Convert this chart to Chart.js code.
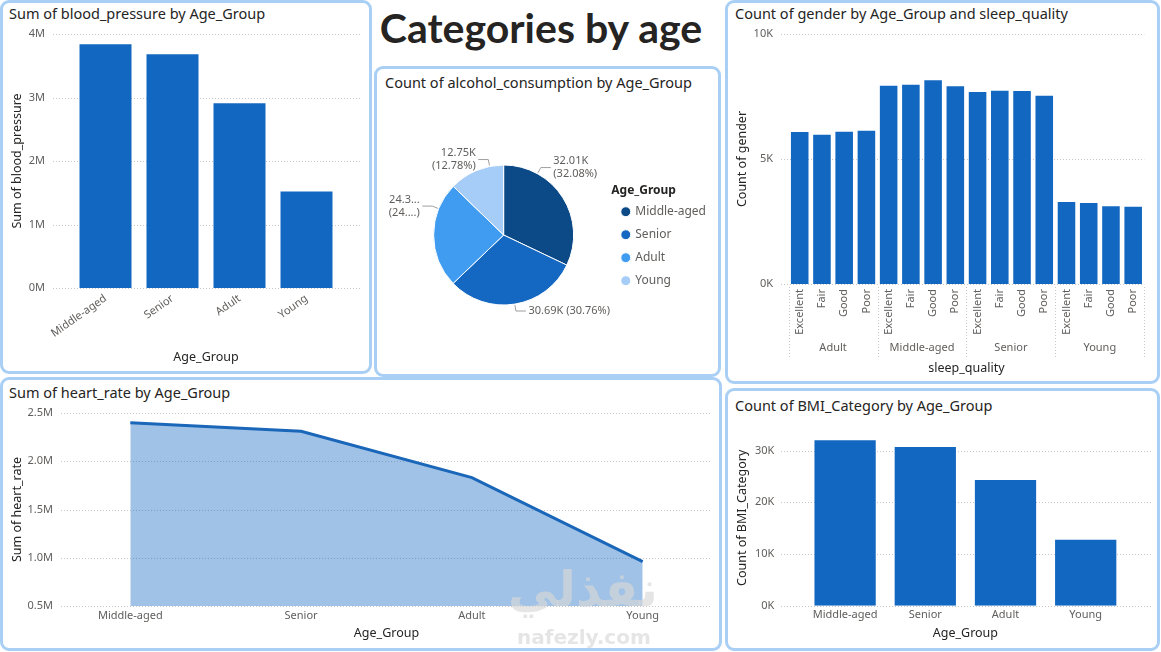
<!DOCTYPE html>
<html>
<head>
<meta charset="utf-8">
<title>Categories by age</title>
<script src="https://cdn.jsdelivr.net/npm/chart.js@4.4.1/dist/chart.umd.min.js"></script>
<style>
  body { margin: 0; background: #fff; font-family: "Noto Sans", sans-serif; }
  #page { position: relative; width: 1161px; height: 652px; overflow: hidden; background: #fff; }
  .panel { position: absolute; box-sizing: border-box; border: 3px solid #a9cff4; border-radius: 9px; background: #fff; }
  .ttl { position: absolute; font-size: 14.5px; line-height: 1; color: #252423; white-space: nowrap; }
  canvas { position: absolute; }
  #mainTitle { position: absolute; left: 360px; top: 7px; width: 362px; text-align: center;
    font-family: Lato, sans-serif; font-weight: bold; font-size: 41px; line-height: 1; color: #252423; }
  .wm { position: absolute; pointer-events: none; color: rgba(215, 215, 215, 0.65); font-family: "DejaVu Sans", sans-serif; font-weight: bold; line-height: 1; }
</style>
</head>
<body>
<div id="page">
  <div class="panel" style="left:0;top:0;width:372px;height:374px"></div>
  <div class="panel" style="left:374px;top:66px;width:347px;height:311px"></div>
  <div class="panel" style="left:725px;top:0;width:435px;height:384px"></div>
  <div class="panel" style="left:0;top:377px;width:722px;height:274px"></div>
  <div class="panel" style="left:725px;top:388px;width:435px;height:263px"></div>

  <div id="mainTitle">Categories by age</div>
  <div class="ttl" style="left:9px;top:6px">Sum of blood_pressure by Age_Group</div>
  <div class="ttl" style="left:385px;top:75px">Count of alcohol_consumption by Age_Group</div>
  <div class="ttl" style="left:735px;top:6px">Count of gender by Age_Group and sleep_quality</div>
  <div class="ttl" style="left:9px;top:385px">Sum of heart_rate by Age_Group</div>
  <div class="ttl" style="left:735px;top:398px">Count of BMI_Category by Age_Group</div>

  <canvas id="bpChart" width="372" height="374" style="left:0;top:0"></canvas>
  <canvas id="alcoholChart" width="341" height="276" style="left:377px;top:98px"></canvas>
  <canvas id="genderChart" width="435" height="384" style="left:725px;top:0"></canvas>
  <canvas id="heartChart" width="721" height="272" style="left:0;top:378px"></canvas>
  <canvas id="bmiChart" width="433" height="261" style="left:726px;top:389px"></canvas>

  <div class="wm" style="left:508px;top:565px;font-size:49px">نفذلي</div>
  <div class="wm" style="left:517px;top:627px;font-size:20px">nafezly.com</div>
</div>

<script>
// categories
const ageGroups = ["Middle-aged", "Senior", "Adult", "Young"];
const sleepAgeGroups = ["Adult", "Middle-aged", "Senior", "Young"];
const sleepLevels = ["Excellent", "Fair", "Good", "Poor"];

// series values
const bloodPressureSum = [3840000, 3680000, 2910000, 1520000];
const alcoholCounts = [32010, 30690, 24330, 12750];
const heartRateSum = [2400000, 2310000, 1830000, 960000];
const bmiCounts = [32010, 30690, 24330, 12750];
const genderAdult = [6080, 5970, 6090, 6130];
const genderMiddleAged = [7930, 7970, 8150, 7910];
const genderSenior = [7680, 7730, 7720, 7530];
const genderYoung = [3280, 3240, 3110, 3090];

// tick values
const bpTicks = [0, 1000000, 2000000, 3000000, 4000000];
const genderTicks = [0, 5000, 10000];
const heartTicks = [500000, 1000000, 1500000, 2000000, 2500000];
const bmiTicks = [0, 10000, 20000, 30000];

const barBlue = "#1267c0";
const pieColors = ["#0c4a87", "#1568c2", "#3f9cf0", "#a6cdf7"];
const titleColor = "#252423";

Chart.defaults.font.family = '"Noto Sans", sans-serif';
Chart.defaults.font.size = 11;
Chart.defaults.color = "#605e5c";
Chart.defaults.animation = false;
Chart.defaults.plugins.legend.display = false;
Chart.defaults.plugins.tooltip.enabled = false;

// dotted horizontal gridlines, a little wider than the plot area like Power BI
const dottedGrid = {
  id: "dottedGrid",
  beforeDatasetsDraw(chart, args, opts) {
    const y = chart.scales.y, area = chart.chartArea, ctx = chart.ctx;
    ctx.save();
    ctx.strokeStyle = "#c8c6c4";
    ctx.lineWidth = 1;
    ctx.setLineDash([1, 2]);
    y.ticks.forEach((t, i) => {
      const py = Math.round(y.getPixelForTick(i)) + 0.5;
      ctx.beginPath();
      ctx.moveTo(area.left - (opts.left || 0), py);
      ctx.lineTo(area.right + (opts.right || 0), py);
      ctx.stroke();
    });
    ctx.restore();
  }
};

// vertical dotted separators between the age groups of the hierarchy axis
const groupSeparators = {
  id: "groupSeparators",
  afterDraw(chart, args, opts) {
    const x = chart.scales.x, area = chart.chartArea, ctx = chart.ctx;
    const band = x.getPixelForValue(1) - x.getPixelForValue(0);
    ctx.save();
    ctx.strokeStyle = "#c8c6c4";
    ctx.lineWidth = 1;
    ctx.setLineDash([1, 2]);
    for (let k = 0; k <= x.ticks.length; k += opts.every) {
      const px = Math.round(x.getPixelForValue(k) - band / 2) + 0.5;
      ctx.beginPath();
      ctx.moveTo(px, area.bottom + opts.from);
      ctx.lineTo(px, area.bottom + opts.to);
      ctx.stroke();
    }
    ctx.restore();
  }
};

// outside labels with leader lines for the pie
const pieLabels = {
  id: "pieLabels",
  afterDatasetsDraw(chart, args, opts) {
    const ctx = chart.ctx;
    const meta = chart.getDatasetMeta(0);
    const data = chart.data.datasets[0].data;
    const total = data.reduce((a, b) => a + b, 0);
    ctx.save();
    ctx.font = '11px "Noto Sans", sans-serif';
    ctx.fillStyle = "#605e5c";
    ctx.strokeStyle = "#a19f9d";
    ctx.lineWidth = 1;
    ctx.textBaseline = "middle";
    meta.data.forEach((arc, i) => {
      const p = arc.getProps(["x", "y", "startAngle", "endAngle", "outerRadius"], true);
      const a = p.startAngle + (p.endAngle - p.startAngle) * opts.anchor[i];
      const x0 = p.x + Math.cos(a) * (p.outerRadius + 1);
      const y0 = p.y + Math.sin(a) * (p.outerRadius + 1);
      const x1 = p.x + Math.cos(a) * (p.outerRadius + 7);
      const y1 = p.y + Math.sin(a) * (p.outerRadius + 7);
      const dir = Math.cos(a) >= 0 ? 1 : -1;
      const x2 = x1 + dir * 10;
      ctx.beginPath();
      ctx.moveTo(x0, y0);
      ctx.lineTo(x1, y1);
      ctx.lineTo(x2, y1);
      ctx.stroke();

      let val = (data[i] / 1000).toFixed(2) + "K";
      let pct = (data[i] / total * 100).toFixed(2) + "%";
      const cut = opts.clip[i];
      if (cut) {
        val = val.slice(0, cut[0]) + "...";
        pct = pct.slice(0, cut[1]) + "...";
      }
      const lines = opts.lines[i] === 2 ? [val, "(" + pct + ")"] : [val + " (" + pct + ")"];
      ctx.textAlign = dir > 0 ? "left" : "right";
      const tx = x2 + dir * 2.5;
      const lh = 13.3;
      lines.forEach((s, j) => {
        ctx.fillText(s, tx, y1 + (j - (lines.length - 1) / 2) * lh);
      });
    });
    ctx.restore();
  }
};

function axisTitle(text, padding) {
  return { display: true, text: text, color: titleColor, font: { size: 12.5 }, padding: padding };
}
const noGrid = { display: false, drawTicks: false };
const noBorder = { display: false };
const fixTicks = vals => scale => { scale.ticks = vals.map(v => ({ value: v })); };

// Sum of blood_pressure by Age_Group
new Chart(document.getElementById("bpChart"), {
  type: "bar",
  data: {
    labels: ageGroups,
    datasets: [{ data: bloodPressureSum, backgroundColor: barBlue, barPercentage: 0.776, categoryPercentage: 1 }]
  },
  options: {
    responsive: false,
    layout: { padding: { top: 34, right: 32, bottom: 0, left: 0 } },
    plugins: { dottedGrid: { left: 19, right: 20 } },
    scales: {
      x: {
        grid: noGrid, border: noBorder,
        ticks: { minRotation: 35, maxRotation: 35, padding: 4, autoSkip: false },
        title: axisTitle("Age_Group", { bottom: 9 }),
        afterFit: s => { s.height = 86; }
      },
      y: {
        min: 0, max: 4000000,
        afterBuildTicks: fixTicks(bpTicks),
        ticks: { padding: 27, callback: v => v / 1000000 + "M" },
        grid: noGrid, border: noBorder,
        title: axisTitle("Sum of blood_pressure", { top: 9.5 }),
        afterFit: s => { s.width = 72; }
      }
    }
  },
  plugins: [dottedGrid]
});

// Count of alcohol_consumption by Age_Group
new Chart(document.getElementById("alcoholChart"), {
  type: "pie",
  data: {
    labels: ageGroups,
    datasets: [{ data: alcoholCounts, backgroundColor: pieColors, borderColor: "#ffffff", borderWidth: 1, radius: 70 }]
  },
  options: {
    responsive: false,
    layout: { padding: { top: 10, bottom: 12, left: 19, right: 2 } },
    plugins: {
      legend: {
        display: true, position: "right", align: "center",
        title: { display: true, text: "Age_Group", position: "start", color: titleColor,
          font: { size: 12, weight: "bold" }, padding: { top: 12, bottom: -4 } },
        labels: { usePointStyle: true, pointStyle: "circle", boxWidth: 7, boxHeight: 7,
          padding: 11, color: "#605e5c", font: { size: 12 } }
      },
      pieLabels: { anchor: [0.25, 0.5, 0.75, 0.75], lines: [2, 1, 2, 2], clip: [null, null, [4, 3], null] }
    }
  },
  plugins: [pieLabels]
});

// Count of gender by Age_Group and sleep_quality
const genderLabels = [];
sleepAgeGroups.forEach(() => sleepLevels.forEach(s => genderLabels.push(s)));
new Chart(document.getElementById("genderChart"), {
  type: "bar",
  data: {
    labels: genderLabels,
    datasets: [{
      data: [].concat(genderAdult, genderMiddleAged, genderSenior, genderYoung),
      backgroundColor: barBlue, barPercentage: 0.79, categoryPercentage: 1
    }]
  },
  options: {
    responsive: false,
    layout: { padding: { top: 34, right: 15.7, bottom: 0, left: 0 } },
    plugins: { dottedGrid: { left: 7.6, right: 0 }, groupSeparators: { every: 4, from: 3, to: 73 } },
    scales: {
      x: {
        grid: noGrid, border: noBorder,
        ticks: { minRotation: 90, maxRotation: 90, padding: 5, autoSkip: false },
        afterFit: s => { s.height = 54; }
      },
      x2: {
        type: "category", labels: sleepAgeGroups, position: "bottom", offset: true, weight: 1,
        grid: noGrid, border: noBorder,
        ticks: { padding: 3 },
        title: axisTitle("sleep_quality", { bottom: 8.5 }),
        afterFit: s => { s.height = 46; }
      },
      y: {
        min: 0, max: 10000,
        afterBuildTicks: fixTicks(genderTicks),
        ticks: { padding: 15.6, callback: v => v / 1000 + "K" },
        grid: noGrid, border: noBorder,
        title: axisTitle("Count of gender", { top: 9.8 }),
        afterFit: s => { s.width = 63.6; }
      }
    }
  },
  plugins: [dottedGrid, groupSeparators]
});

// Sum of heart_rate by Age_Group
new Chart(document.getElementById("heartChart"), {
  type: "line",
  data: {
    datasets: [{
      data: heartRateSum.map((v, i) => ({ x: i, y: v })),
      fill: "start",
      backgroundColor: "rgba(17, 103, 192, 0.4)",
      borderColor: "#1a66b9", borderWidth: 3,
      pointRadius: 0, tension: 0
    }]
  },
  options: {
    responsive: false,
    layout: { padding: { top: 35, right: 10, bottom: 0, left: 0 } },
    plugins: { dottedGrid: { left: 1, right: 0 } },
    scales: {
      x: {
        type: "linear", min: -0.4, max: 3.4,
        afterBuildTicks: fixTicks(ageGroups.map((g, i) => i)),
        ticks: { padding: 3, autoSkip: false, callback: v => ageGroups[v] },
        grid: noGrid, border: noBorder,
        title: axisTitle("Age_Group", { bottom: 8.8 }),
        afterFit: s => { s.height = 44; }
      },
      y: {
        min: 500000, max: 2500000,
        afterBuildTicks: fixTicks(heartTicks),
        ticks: { padding: 9, callback: v => (v / 1000000).toFixed(1) + "M" },
        grid: noGrid, border: noBorder,
        title: axisTitle("Sum of heart_rate", { top: 10 }),
        afterFit: s => { s.width = 62; }
      }
    }
  },
  plugins: [dottedGrid]
});

// Count of BMI_Category by Age_Group
new Chart(document.getElementById("bmiChart"), {
  type: "bar",
  data: {
    labels: ageGroups,
    datasets: [{ data: bmiCounts, backgroundColor: barBlue, barPercentage: 0.764, categoryPercentage: 1 }]
  },
  options: {
    responsive: false,
    layout: { padding: { top: 41, right: 33.2, bottom: 0, left: 0 } },
    plugins: { dottedGrid: { left: 24, right: 26 } },
    scales: {
      x: {
        grid: noGrid, border: noBorder,
        ticks: { padding: 3, autoSkip: false },
        title: axisTitle("Age_Group", { bottom: 9.2 }),
        afterFit: s => { s.height = 44.3; }
      },
      y: {
        min: 0, max: 34000,
        afterBuildTicks: fixTicks(bmiTicks),
        ticks: { padding: 30.7, callback: v => v / 1000 + "K" },
        grid: noGrid, border: noBorder,
        title: axisTitle("Count of BMI_Category", { top: 8.8 }),
        afterFit: s => { s.width = 79; }
      }
    }
  },
  plugins: [dottedGrid]
});
</script>
</body>
</html>
